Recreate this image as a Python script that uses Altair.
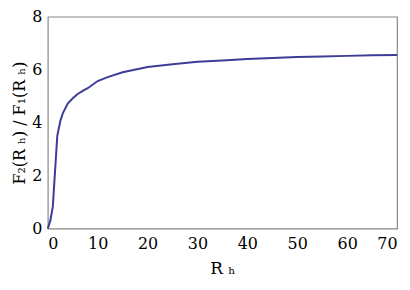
import altair as alt
import pandas as pd

rh = [0, 0.5, 1, 1.9, 2.5, 3, 4, 5, 6, 7, 8, 10, 12, 15, 20, 25, 30, 35, 40, 45, 50, 55, 60, 65, 70]
ratio = [0, 0.3, 0.82, 3.5, 4.05, 4.35, 4.72, 4.92, 5.08, 5.2, 5.3, 5.57, 5.72, 5.9, 6.1, 6.2, 6.3, 6.35, 6.4, 6.44, 6.48, 6.5, 6.52, 6.54, 6.55]
x_ticks = [0, 10, 20, 30, 40, 50, 60, 70]
y_ticks = [0, 2, 4, 6, 8]

df = pd.DataFrame({"rh": rh, "ratio": ratio})

font = "DejaVu Serif"

chart = alt.Chart(df).mark_line(color="#3d3d99", strokeWidth=2).encode(
    x=alt.X("rh:Q", scale=alt.Scale(domain=[0, 70], nice=False),
            axis=alt.Axis(values=x_ticks, title="R ₕ", grid=False, domain=False, ticks=False,
                          labelFont=font, labelFontSize=16, labelColor="#000", labelPadding=7,
                          titleFont=font, titleFontSize=17, titleFontWeight="normal",
                          titleColor="#000", titlePadding=9)),
    y=alt.Y("ratio:Q", scale=alt.Scale(domain=[0, 8], nice=False),
            axis=alt.Axis(values=y_ticks, title="F₂(R ₕ) / F₁(R ₕ)", grid=False, domain=False,
                          ticks=False, labelFont=font, labelFontSize=16, labelColor="#000",
                          labelPadding=6, titleFont=font, titleFontSize=16,
                          titleFontWeight="normal", titleColor="#000", titlePadding=4)),
).properties(
    width=351, height=213,
    autosize=alt.AutoSizeParams(type="none"),
    padding={"left": 40, "top": 8, "right": 5, "bottom": 62},
).configure_view(stroke="#888888", strokeWidth=1.2)

chart.save("out.html", embed_options={"renderer": "svg", "actions": False})
